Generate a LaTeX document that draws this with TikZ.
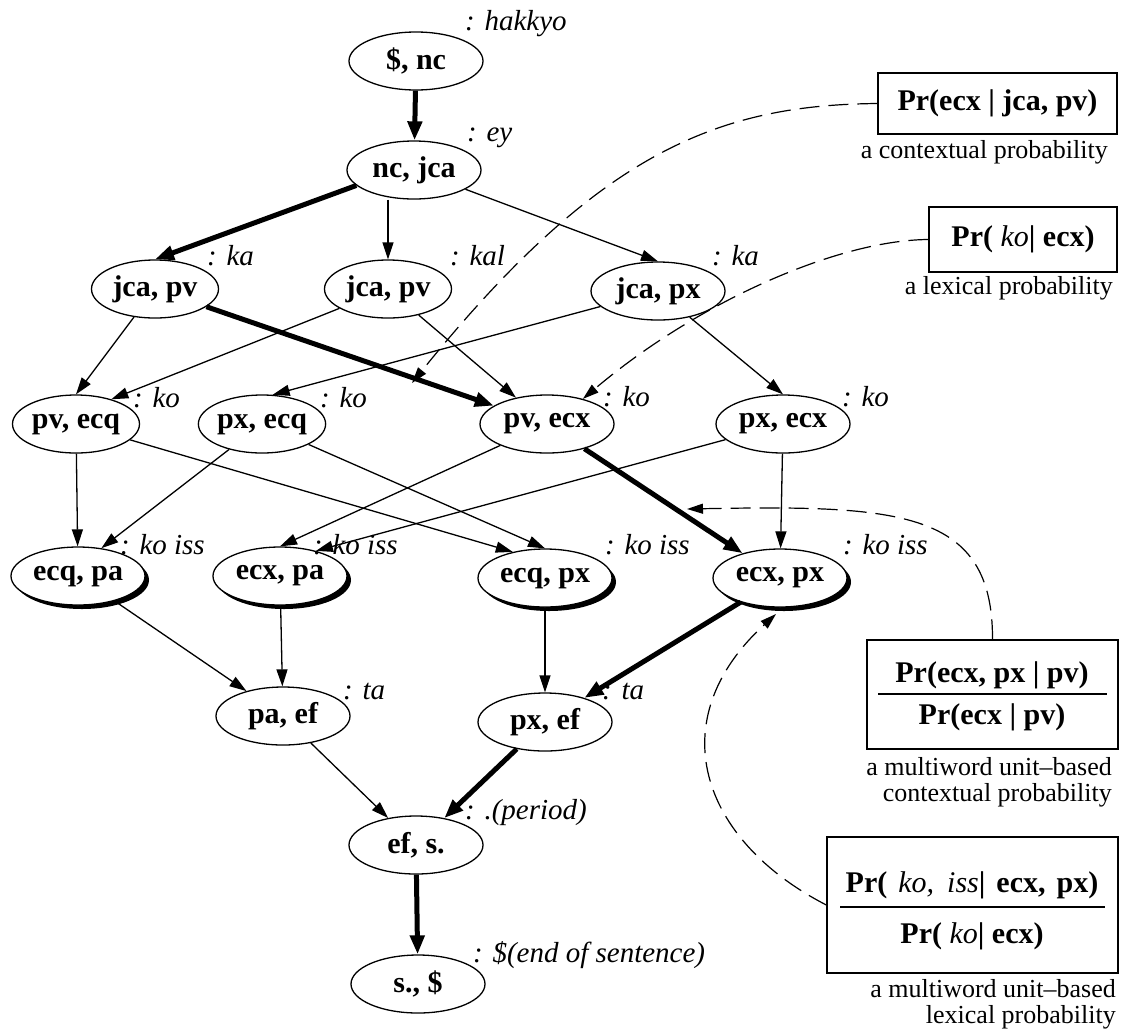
\documentclass[tikz,border=0pt]{standalone}
\usepackage{fontspec}
\setmainfont{Liberation Serif}
\usetikzlibrary{arrows.meta,shapes.geometric,shadows}
\begin{document}
\begin{tikzpicture}[x=1pt,y=-1pt,
  ell/.style={ellipse,draw,line width=1.3pt,fill=white,minimum width=134pt,minimum height=58pt,inner sep=0pt,font=\fontsize{30}{34}\selectfont\bfseries},
  nar/.style={minimum width=127pt},
  shad/.style={drop shadow={shadow xshift=4pt,shadow yshift=-4pt,fill=black,opacity=1}},
  lbl/.style={font=\fontsize{29}{34}\selectfont\itshape,inner sep=0pt,anchor=west},
  thinarr/.style={line width=1.3pt,-{Triangle[length=17pt,width=11pt]}},
  thickarr/.style={line width=5pt,-{Triangle[length=19pt,width=14pt]}},
  dsh/.style={line width=1.2pt,dash pattern=on 20pt off 9pt,-{Triangle[length=16pt,width=10pt]}},
  pbox/.style={draw,line width=1.3pt,inner sep=0pt,font=\fontsize{30}{34}\selectfont\bfseries},
  ptxt/.style={inner sep=0pt,font=\fontsize{30}{34}\selectfont\bfseries},
  captxt/.style={font=\fontsize{26}{26}\selectfont,inner sep=0pt,anchor=east,align=right}
]
\useasboundingbox (0,0) rectangle (1123,1034);

% nodes
\node[ell] (n1) at (416,61) {\$, nc};
\node[ell] (n2) at (414,170) {nc, jca};
\node[ell,nar] (n3a) at (155,289) {jca, pv};
\node[ell,nar] (n3b) at (388,289) {jca, pv};
\node[ell] (n3c) at (658,291) {jca, px};
\node[ell,nar] (n4a) at (76,424) {pv, ecq};
\node[ell,nar] (n4b) at (262,424) {px, ecq};
\node[ell] (n4c) at (547,424) {pv, ecx};
\node[ell] (n4d) at (783,424) {px, ecx};
\node[ell,shad] (n5a) at (78,576) {ecq, pa};
\node[ell,shad] (n5b) at (280,576) {ecx, pa};
\node[ell,shad] (n5c) at (545,578) {ecq, px};
\node[ell,shad] (n5d) at (780,578) {ecx, px};
\node[ell] (n6a) at (283,716) {pa, ef};
\node[ell] (n6b) at (545,722) {px, ef};
\node[ell] (n7) at (416,845) {ef, s.};
\node[ell] (n8) at (418,984) {s., \$};

% labels
\node[lbl] (l1) at (465,24) {: hakkyo};
\node[lbl] (l2) at (467,138) {: ey};
\node[lbl] (l3a) at (207,256) {: ka};
\node[lbl] (l3b) at (450,256) {: kal};
\node[lbl] (l3c) at (712,256) {: ka};
\node[lbl] (l4a) at (133,398) {: ko};
\node[lbl] (l4b) at (320,398) {: ko};
\node[lbl] (l4c) at (603,397) {: ko};
\node[lbl] (l4d) at (842,397) {: ko};
\node[lbl] (l5a) at (120,545) {: ko iss};
\node[lbl] (l5b) at (313,545) {: ko iss};
\node[lbl] (l5c) at (605,545) {: ko iss};
\node[lbl] (l5d) at (843,545) {: ko iss};
\node[lbl] (l6a) at (343,692) {: ta};
\node[lbl] (l6b) at (602,692) {: ta};
\node[lbl] (l7) at (465,813) {: .(period)};
\node[lbl] (l8) at (473,955) {: \$(end of sentence)};

% edges
\draw[thickarr] (n1) -- (n2);
\draw[thickarr] (n2.195) -- (n3a.north);
\draw[thinarr] (n2.south -| n3b.north) -- (n3b.north);
\draw[thinarr] (n2) -- (n3c.north);
\draw[thinarr] (n3a) -- (n4a.north);
\draw[thickarr] (n3a) -- (n4c);
\draw[thinarr] (n3b) -- (n4a.35);
\draw[thinarr] (n3b) -- (n4c);
\draw[thinarr] (n3c) -- (n4b.70);
\draw[thinarr] (n3c) -- (n4d.north);
\draw[thinarr] (n4a) -- (n5a);
\draw[thinarr] (n4a) -- (n5c.141);
\draw[thinarr] (n4b) -- (n5a.50);
\draw[thinarr] (n4b) -- (n5c.north);
\draw[thinarr] (n4c) -- (n5b.north);
\draw[thinarr] (n4d) -- (n5b.35);
\draw[thickarr] (n4c) -- (n5d);
\draw[thinarr] (n4d) -- (n5d);
\draw[thinarr] (n5a) -- (n6a);
\draw[thinarr] (n5b) -- (n6a);
\draw[thinarr] (n5c) -- (n6b);
\draw[thickarr] (n5d) -- (n6b);
\draw[thinarr] (n6a) -- (n7);
\draw[thickarr] (n6b) -- (n7);
\draw[thickarr] (n7) -- (n8);

% probability boxes
\node[pbox,minimum width=239pt,minimum height=61pt] (b1) at (997.5,103.5) {Pr(ecx | jca, pv)};
\node[captxt] (c1) at (1108,152) {a contextual probability};
\node[pbox,minimum width=188pt,minimum height=65pt] (b2) at (1023,239.5) {Pr( {\mdseries\itshape ko}| ecx)};
\node[captxt] (c2) at (1113,288) {a lexical probability};

\node[pbox,minimum width=251pt,minimum height=109pt] (b3) at (992.5,694.5) {};
\node[ptxt] (b3n) at (992,675) {Pr(ecx, px | pv)};
\node[ptxt] (b3d) at (992,717) {Pr(ecx | pv)};
\draw[line width=1.3pt] (878,694) -- (1107,694);
\node[captxt] (c3) at (1112,782) {a multiword unit–based\\contextual probability};

\node[pbox,minimum width=291pt,minimum height=136pt] (b4) at (972.5,905) {};
\node[ptxt] (b4n) at (972,885) {Pr(\hspace{11pt}{\mdseries\itshape ko,\hspace{13pt}iss}|\hspace{11pt}ecx,\hspace{11pt}px)};
\node[ptxt] (b4d) at (972,936) {Pr( {\mdseries\itshape ko}| ecx)};
\draw[line width=1.3pt] (840,907) -- (1105,907);
\node[captxt] (c4) at (1116,1004) {a multiword unit–based\\lexical probability};

% dashed references
\coordinate (t1) at (412,383);
\coordinate (t3) at (687,509);
\coordinate (t4) at (776,614);
\draw[dsh] (b1.west) .. controls (720,105) and (600,150) .. (t1);
\draw[dsh] (b2.west) .. controls (840,240) and (700,300) .. (n4c.35);
\draw[dsh] (b3.north) .. controls (993,510) and (900,505) .. (t3);
\draw[dsh] (b4.west) .. controls (700,840) and (660,720) .. (t4);
\end{tikzpicture}
\end{document}
